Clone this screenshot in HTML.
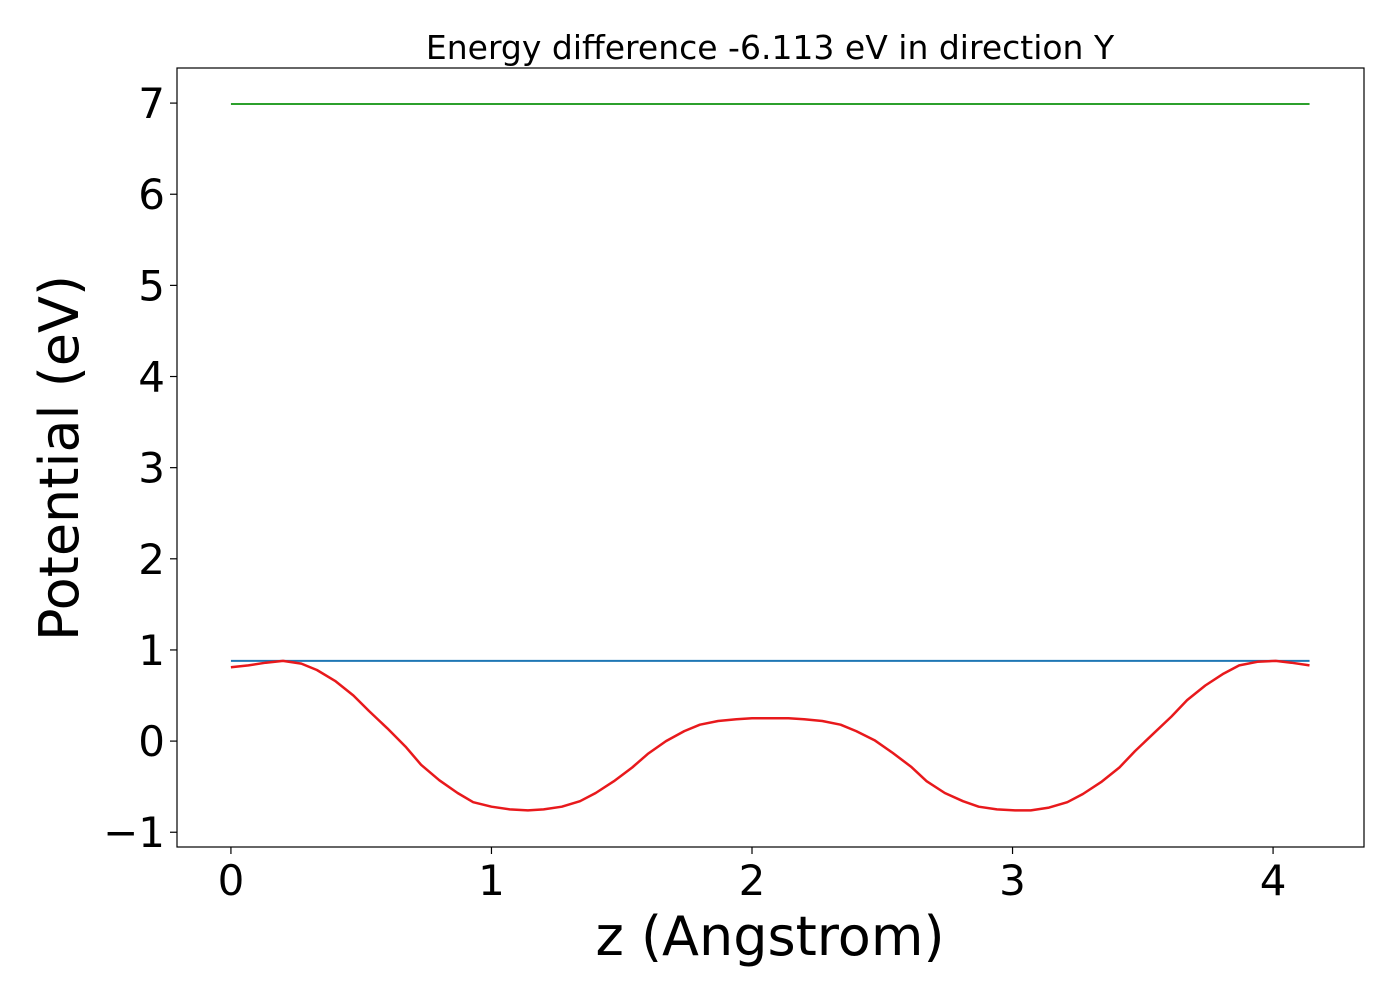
<!DOCTYPE html>
<html><head><meta charset="utf-8"><style>
body{margin:0;background:#fff;}
svg{display:block;font-family:"DejaVu Sans","Liberation Sans",sans-serif;}
</style></head><body>
<svg id="chart" width="1400" height="1000" viewBox="0 0 1400 1000"></svg>
<script>
const zValues=[0.00,0.067,0.134,0.20,0.27,0.33,0.40,0.47,0.53,0.60,0.67,0.73,0.80,0.87,0.93,1.00,1.07,1.14,1.20,1.27,1.34,1.40,1.47,1.54,1.60,1.67,1.74,1.80,1.87,1.94,2.00,2.07,2.14,2.20,2.27,2.34,2.40,2.47,2.54,2.61,2.67,2.74,2.81,2.87,2.94,3.01,3.07,3.14,3.21,3.27,3.34,3.41,3.47,3.54,3.61,3.67,3.74,3.81,3.87,3.94,4.01,4.07,4.14];
const potential=[0.81,0.83,0.86,0.88,0.85,0.78,0.66,0.50,0.33,0.14,-0.06,-0.26,-0.43,-0.57,-0.67,-0.72,-0.75,-0.76,-0.75,-0.72,-0.66,-0.57,-0.44,-0.29,-0.14,0.00,0.11,0.18,0.22,0.24,0.25,0.25,0.25,0.24,0.22,0.18,0.11,0.01,-0.13,-0.28,-0.44,-0.57,-0.66,-0.72,-0.75,-0.76,-0.76,-0.73,-0.67,-0.58,-0.45,-0.29,-0.11,0.08,0.27,0.45,0.61,0.74,0.83,0.87,0.88,0.86,0.83];
const avgLevel=[0.88];
const topLevel=[6.99];
const xTicks=[0,1,2,3,4];
const yTicks=[-1,0,1,2,3,4,5,6,7];
const yTickLabels=["\u22121","0","1","2","3","4","5","6","7"];

const svg=document.getElementById('chart');
const NS='http://www.w3.org/2000/svg';
const L=177,R=1364,T=68,B=847;
const xMin=-0.207,xMax=4.349,yMin=-1.162,yMax=7.385;
const sx=v=>L+(v-xMin)/(xMax-xMin)*(R-L);
const sy=v=>B-(v-yMin)/(yMax-yMin)*(B-T);
function mk(tag,attrs,parent){const e=document.createElementNS(NS,tag);for(const k in attrs)e.setAttribute(k,attrs[k]);(parent||svg).appendChild(e);return e;}

const zStart=zValues[0],zEnd=zValues[zValues.length-1];
const g1=mk('line',{x1:sx(zStart),x2:sx(zEnd),y1:sy(topLevel[0]),y2:sy(topLevel[0]),stroke:'#2ca02c','stroke-width':2});


const b1=mk('line',{x1:sx(zStart),x2:sx(zEnd),y1:sy(avgLevel[0]),y2:sy(avgLevel[0]),stroke:'#1f77b4','stroke-width':2});


const pts=zValues.map((z,i)=>sx(z).toFixed(1)+','+sy(potential[i]).toFixed(1)).join(' ');
const r1=mk('polyline',{points:pts,fill:'none',stroke:'#e8191c','stroke-width':2.5,'stroke-linejoin':'round'});



const fr=mk('rect',{x:L,y:T,width:R-L,height:B-T,fill:'none',stroke:'#000','stroke-width':1.2});



xTicks.forEach(t=>{
  const x=sx(t);
  const tk=mk('line',{x1:x,x2:x,y1:B,y2:B+7,stroke:'#000','stroke-width':1.2});
  
  
  const lb=mk('text',{x:x,y:B+48,'font-size':42,'text-anchor':'middle',fill:'#000'});
  lb.textContent=String(t);
  
  
});
yTicks.forEach((t,i)=>{
  const y=sy(t);
  const tk=mk('line',{x1:L-7,x2:L,y1:y,y2:y,stroke:'#000','stroke-width':1.2});
  
  
  const lb=mk('text',{x:L-12,y:y+15,'font-size':42,'text-anchor':'end',fill:'#000'});
  lb.textContent=yTickLabels[i];
  
  
});
const tt=mk('text',{x:770,y:59,'font-size':33,'text-anchor':'middle',fill:'#000'});
tt.textContent='Energy difference -6.113 eV in direction Y';


const xl=mk('text',{x:770,y:955,'font-size':54,'text-anchor':'middle',fill:'#000'});
xl.textContent='z (Angstrom)';


const yl=mk('text',{x:0,y:0,'font-size':54,'text-anchor':'middle',fill:'#000',transform:'translate(78,458) rotate(-90)'});
yl.textContent='Potential (eV)';


</script>
</body></html>
